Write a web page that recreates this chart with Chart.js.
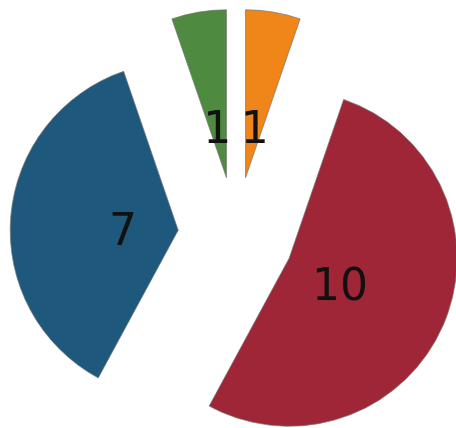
<!DOCTYPE html>
<html>
<head>
<meta charset="utf-8">
<script src="https://cdn.jsdelivr.net/npm/chart.js@4"></script>
<style>
  html, body { margin: 0; padding: 0; background: #fff; }
  #wrap { width: 456px; height: 428px; }
</style>
</head>
<body>
<div id="wrap"><canvas id="pieChart"></canvas></div>
<script>
// chart data
var categories = ['A', 'B', 'C', 'D'];
var values = [1, 10, 7, 1];
var sliceColors = ['#f0851a', '#9e2636', '#1e587c', '#4e8a3f'];

var EXPLODE = 58;      // how far each slice is pulled out (px)
var LABEL_POS = 0.33;  // label distance from the slice tip, as part of the radius

// draws each slice moved out along its middle angle, then the value on it
var explodePlugin = {
    id: 'explode',
    beforeDatasetDraw: function (chart, args) {
        var ctx = chart.ctx;
        var meta = args.meta;
        meta.data.forEach(function (arc) {
            var mid = (arc.startAngle + arc.endAngle) / 2;
            ctx.save();
            ctx.translate(Math.cos(mid) * EXPLODE, Math.sin(mid) * EXPLODE);
            arc.draw(ctx);
            ctx.restore();
        });

        ctx.save();
        ctx.fillStyle = '#111';
        ctx.font = '44px "DejaVu Sans", sans-serif';
        ctx.textAlign = 'center';
        ctx.textBaseline = 'middle';
        meta.data.forEach(function (arc, i) {
            var mid = (arc.startAngle + arc.endAngle) / 2;
            var d = EXPLODE + arc.outerRadius * LABEL_POS;
            ctx.fillText(String(values[i]), arc.x + Math.cos(mid) * d, arc.y + Math.sin(mid) * d + 8);
        });
        ctx.restore();
        return false;
    }
};

var pieCtx = document.getElementById('pieChart').getContext('2d');
var pieChart = new Chart(pieCtx, {
    type: 'pie',
    data: {
        labels: categories,
        datasets: [{
            data: values,
            backgroundColor: sliceColors,
            borderColor: 'rgba(120, 120, 120, 0.7)',
            borderWidth: 1,
            radius: 168,
            clip: false
        }]
    },
    options: {
        responsive: true,
        maintainAspectRatio: false,
        animation: false,
        layout: {
            padding: { left: 16, top: 42 }
        },
        plugins: {
            legend: { display: false },
            tooltip: { enabled: false }
        }
    },
    plugins: [explodePlugin]
});
</script>
</body>
</html>
